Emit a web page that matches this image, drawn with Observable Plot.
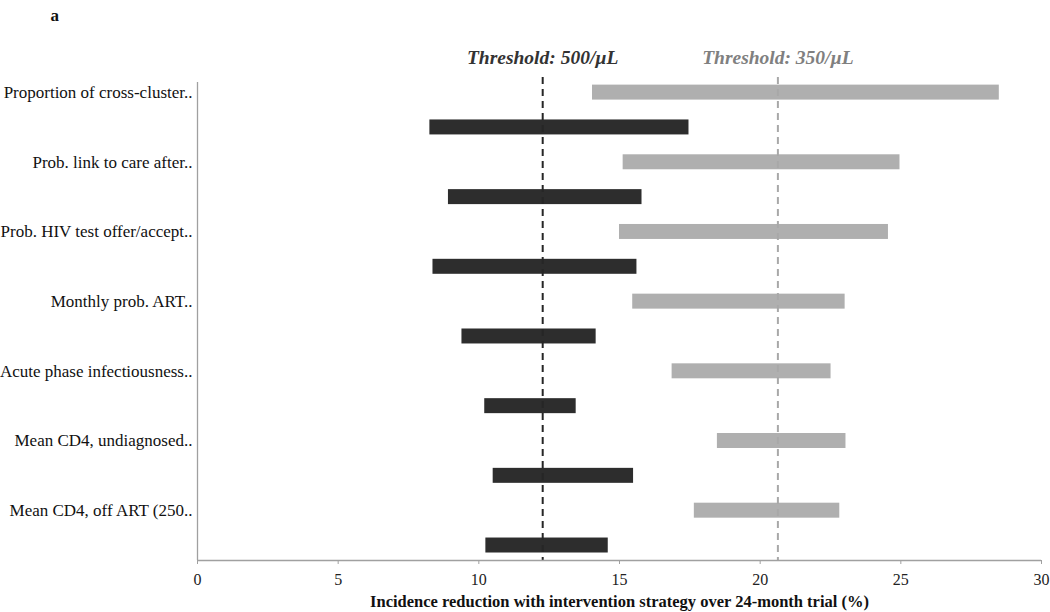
<!DOCTYPE html>
<html>
<head>
<meta charset="utf-8">
<script src="https://cdn.jsdelivr.net/npm/d3@7"></script>
<script src="https://cdn.jsdelivr.net/npm/@observablehq/plot@0.6"></script>
<style>
  html, body { margin: 0; padding: 0; background: #fff; }
</style>
</head>
<body>
<div id="chart"></div>
<script>
const categories = [
  "Proportion of cross-cluster..",
  "Prob. link to care after..",
  "Prob. HIV test offer/accept..",
  "Monthly prob. ART..",
  "Acute phase infectiousness..",
  "Mean CD4, undiagnosed..",
  "Mean CD4, off ART (250.."
];
const low350  = [14.04, 15.13, 15.00, 15.47, 16.87, 18.48, 17.66];
const high350 = [28.50, 24.97, 24.56, 23.02, 22.52, 23.05, 22.83];
const low500  = [8.26, 8.92, 8.37, 9.40, 10.21, 10.51, 10.25];
const high500 = [17.47, 15.80, 15.62, 14.17, 13.46, 15.50, 14.60];
const thresholdLabels = ["Threshold: 500/\u00b5L", "Threshold: 350/\u00b5L"];
const thresholdValues = [12.27, 20.63];
const xTicks = [0, 5, 10, 15, 20, 25, 30];
const xTitle = "Incidence reduction with intervention strategy over 24-month trial (%)";
const panelLetter = "a";

const DARK = "#2d2d2d";
const GRAY = "#afafaf";

const rows = [];
categories.forEach((c, i) => {
  rows.push({cat: c, row: 2 * i, lo: low350[i], hi: high350[i], series: "350"});
  rows.push({cat: c, row: 2 * i + 1, lo: low500[i], hi: high500[i], series: "500"});
});
const thresholds = thresholdLabels.map((l, i) => ({label: l, value: thresholdValues[i], series: i === 0 ? "500" : "350"}));

const yDomain = [-0.29, 13.43];
const half = 0.215;
const font = "'Liberation Serif', 'Times New Roman', serif";

const chart = Plot.plot({
  width: 1050,
  height: 612,
  marginLeft: 197,
  marginRight: 9,
  marginTop: 82,
  marginBottom: 52,
  style: {fontFamily: font, fontSize: "16px", background: "#fff", color: "#222"},
  x: {domain: [0, 30]},
  y: {domain: yDomain, reverse: true},
  marks: [
    Plot.rectX(rows, {
      x1: "lo", x2: "hi",
      y1: d => d.row - half, y2: d => d.row + half,
      fill: d => d.series === "350" ? GRAY : DARK
    }),
    Plot.ruleX(thresholds, {
      x: "value",
      insetTop: -5,
      stroke: d => d.series === "500" ? "#262626" : "#a8a8a8",
      strokeWidth: 2,
      strokeDasharray: "7,5"
    }),
    Plot.ruleX([0], {stroke: "#a0a0a0", strokeWidth: 1.3}),
    Plot.ruleY([yDomain[1]], {stroke: "#a0a0a0", strokeWidth: 1.3}),
    Plot.axisX({ticks: xTicks, tickSize: 4, tickPadding: 9, stroke: "#a0a0a0", fill: "#222", fontSize: 16, label: null}),
    Plot.axisY({
      ticks: categories.map((_, i) => 2 * i),
      tickFormat: v => categories[v / 2],
      tickSize: 0, tickPadding: 5, fontSize: 17, fill: "#111", label: null
    }),
    Plot.text(thresholds, {
      x: "value", frameAnchor: "top", lineAnchor: "middle", dy: -25, text: "label",
      fill: d => d.series === "500" ? "#333" : "#808080",
      fontSize: 19.5, fontWeight: "bold", fontStyle: "italic"
    }),
    Plot.text([xTitle], {frameAnchor: "bottom", lineAnchor: "middle", dy: 41, text: d => d, fontWeight: "bold", fontSize: 16.5, fill: "#111"}),
    Plot.text([panelLetter], {frameAnchor: "top-left", lineAnchor: "middle", dx: -147, dy: -67, text: d => d, fontWeight: "bold", fontSize: 17, fill: "#111"})
  ]
});
document.getElementById("chart").appendChild(chart);
</script>
</body>
</html>
